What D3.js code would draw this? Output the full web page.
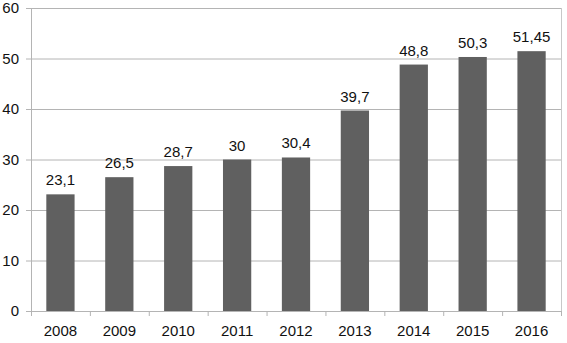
<!DOCTYPE html>
<html>
<head>
<meta charset="utf-8">
<script src="https://cdn.jsdelivr.net/npm/d3@7"></script>
<style>
  body { margin: 0; background: #fff; }
  text { font-family: "Liberation Sans", Arial, sans-serif; fill: #111; }
</style>
</head>
<body>
<div id="graph"></div>
<script>
// chart data
const years = ["2008", "2009", "2010", "2011", "2012", "2013", "2014", "2015", "2016"]
const values = [23.1, 26.5, 28.7, 30, 30.4, 39.7, 48.8, 50.3, 51.45]
const valueLabels = ["23,1", "26,5", "28,7", "30", "30,4", "39,7", "48,8", "50,3", "51,45"]
const yTicks = [0, 10, 20, 30, 40, 50, 60]

const width = 567, height = 343
const margin = { top: 8, right: 6, bottom: 32, left: 31 }
const gWidth = width - margin.left - margin.right
const gHeight = height - margin.top - margin.bottom

const svg = d3.select('#graph').append('svg').attr('width', width).attr('height', height)
const graph = svg.append('g').attr('transform', `translate(${margin.left}, ${margin.top})`)

const xScale = d3.scaleBand().domain(years).range([0, gWidth]).paddingInner(0.52).paddingOuter(0.26)
const yScale = d3.scaleLinear().domain([0, 60]).range([gHeight, 0])

// horizontal gridlines
graph.selectAll('.grid').data(yTicks).enter().append('line')
  .attr('x1', 0).attr('x2', gWidth)
  .attr('y1', d => yScale(d) + 0.5).attr('y2', d => yScale(d) + 0.5)
  .attr('stroke', '#b4b4b4')

// plot frame (left and right)
graph.append('line').attr('x1', 0.5).attr('x2', 0.5).attr('y1', 0).attr('y2', gHeight).attr('stroke', '#b4b4b4')
graph.append('line').attr('x1', gWidth + 0.5).attr('x2', gWidth + 0.5).attr('y1', 0).attr('y2', gHeight).attr('stroke', '#c8c8c8')

// y axis
const yAxis = graph.append('g').attr('class', 'axis')
  .call(d3.axisLeft(yScale).tickValues(yTicks).tickSize(5).tickPadding(7))
yAxis.select('.domain').remove()
yAxis.selectAll('line').attr('stroke', '#b4b4b4')
yAxis.selectAll('text').style('font-size', '15px').attr('fill', '#111')

// x axis with tick marks between categories
const step = xScale.step()
const xAxis = graph.append('g').attr('class', 'axis').attr('transform', `translate(0, ${gHeight})`)
  .call(d3.axisBottom(xScale).tickSize(0).tickPadding(14))
xAxis.select('.domain').remove()
xAxis.selectAll('text').style('font-size', '15px').attr('fill', '#111')
graph.selectAll('.sep').data(d3.range(years.length + 1)).enter().append('line')
  .attr('x1', i => i * step + 0.5).attr('x2', i => i * step + 0.5)
  .attr('y1', gHeight).attr('y2', gHeight + 5)
  .attr('stroke', '#b4b4b4')

// bars
graph.selectAll('rect').data(values).enter().append('rect')
  .attr('x', (d, i) => xScale(years[i]))
  .attr('width', xScale.bandwidth())
  .attr('y', d => yScale(d))
  .attr('height', d => gHeight - yScale(d))
  .style('fill', '#606060')

// value labels
graph.selectAll('.label').data(values).enter().append('text')
  .attr('class', 'label')
  .attr('x', (d, i) => xScale(years[i]) + xScale.bandwidth() / 2)
  .attr('y', d => yScale(d) - 9)
  .style('text-anchor', 'middle')
  .style('font-size', '15px')
  .text((d, i) => valueLabels[i])
</script>
</body>
</html>
